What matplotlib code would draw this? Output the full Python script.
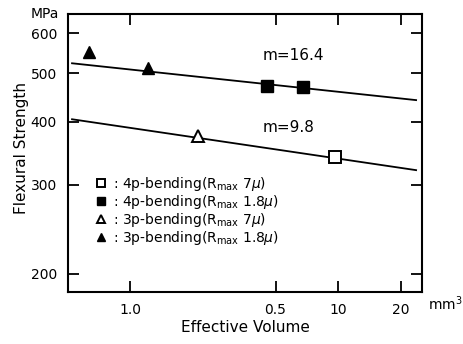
import numpy as np
import matplotlib
matplotlib.use('Agg')
from matplotlib import pyplot as plt

# data
vol_4p_7 = [9.67]
str_4p_7 = [341]
vol_4p_18 = [4.56, 6.79]
str_4p_18 = [471, 469]
vol_3p_7 = [2.12]
str_3p_7 = [375]
vol_3p_18 = [0.635, 1.22]
str_3p_18 = [550, 511]

# fitted lines (end points)
fit_vol = [0.526, 23.7]
fit_upper = [523, 442]
fit_lower = [405, 321]

x_ticks = [1, 5, 10, 20]
x_labels = ['1.0', '0.5', '10', '20']
y_ticks = [200, 300, 400, 500, 600]

plt.rcParams['font.family'] = 'DejaVu Sans'

fig = plt.figure(figsize=(4.64, 3.44), dpi=100)
ax = fig.add_axes([68 / 464, 52 / 344, 354 / 464, 278 / 344])

ax.plot(fit_vol, fit_upper, color='black', lw=1.3)
ax.plot(fit_vol, fit_lower, color='black', lw=1.3)

ms = 8.5
ax.plot(vol_4p_7, str_4p_7, 's', ms=ms, mfc='white', mec='black', mew=1.4,
        label=r': 4p-bending(R$_{\rm max}$ 7$\mu$)')
ax.plot(vol_4p_18, str_4p_18, 's', ms=ms, mfc='black', mec='black',
        label=r': 4p-bending(R$_{\rm max}$ 1.8$\mu$)')
ax.plot(vol_3p_7, str_3p_7, '^', ms=ms, mfc='white', mec='black', mew=1.4,
        label=r': 3p-bending(R$_{\rm max}$ 7$\mu$)')
ax.plot(vol_3p_18, str_3p_18, '^', ms=ms, mfc='black', mec='black',
        label=r': 3p-bending(R$_{\rm max}$ 1.8$\mu$)')

ax.set_xscale('log')
ax.set_yscale('log')
ax.set_xlim(0.503, 25.3)
ax.set_ylim(184, 655)

ax.set_xticks(x_ticks)
ax.set_xticklabels(x_labels)
ax.set_yticks(y_ticks)
ax.set_yticklabels([str(v) for v in y_ticks])
ax.minorticks_off()
ax.tick_params(direction='in', length=8, width=1.3, labelsize=10,
               top=True, right=True, pad=8)

for s in ax.spines.values():
    s.set_linewidth(1.5)

ax.text(0.55, 0.85, 'm=16.4', transform=ax.transAxes,
        fontsize=11, va='center')
ax.text(0.55, 0.592, 'm=9.8', transform=ax.transAxes,
        fontsize=11, va='center')

ax.legend(loc='upper left', bbox_to_anchor=(0.065, 0.44), frameon=False,
          fontsize=10, handlelength=0.7, handletextpad=0.45,
          labelspacing=0.0, borderaxespad=0, markerscale=0.75)

fig.text(45 / 464, 1 - 14 / 344, 'MPa', ha='center', va='center', fontsize=10)
fig.text(22 / 464, 1 - 148 / 344, 'Flexural Strength', rotation=90,
         ha='center', va='center', fontsize=11)
fig.text(245 / 464, 1 - 327 / 344, 'Effective Volume', ha='center',
         va='center', fontsize=11)
fig.text(445 / 464, 1 - 304 / 344, 'mm$^3$', ha='center', va='center',
         fontsize=10)

fig.savefig('out.png', dpi=100)
